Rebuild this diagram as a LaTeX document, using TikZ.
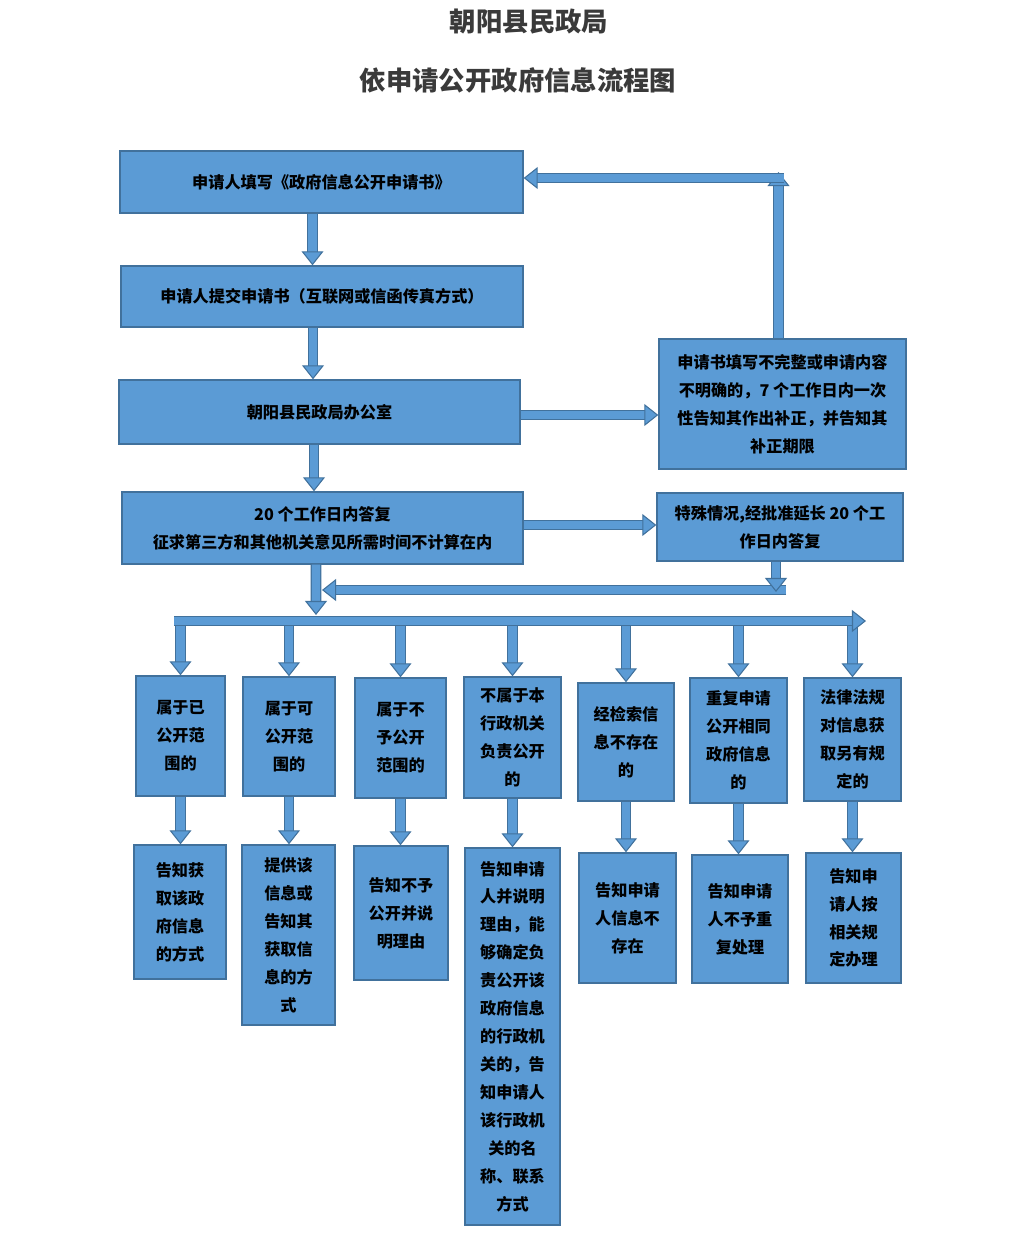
\documentclass[tikz,border=0pt]{standalone}
\usepackage{fontspec}
\setmainfont{Noto Sans CJK SC}
\usepackage{tikz}
\usetikzlibrary{arrows.meta,calc}
\definecolor{FlowBlue}{HTML}{5B9BD5}
\definecolor{FlowLine}{HTML}{41719C}
\definecolor{TitleGray}{HTML}{3A3A3A}
\tikzset{
  stepbox/.style={draw=FlowLine,line width=0.8pt,fill=FlowBlue,align=center,inner sep=2pt,
    font=\fontsize{9.2}{15.9}\selectfont\bfseries},
  flow/.style={draw=FlowBlue,line width=4.6pt,
    -{Triangle[length=8pt,width=12.5pt,line width=0.6pt,fill=FlowBlue,color=FlowLine]},
    preaction={draw=FlowLine,line width=6pt,shorten >=7.5pt,-}},
  titletext/.style={font=\fontsize{15}{18}\selectfont\bfseries,text=TitleGray}
}
\begin{document}
\begin{tikzpicture}[x=0.02cm,y=-0.02cm]
  \fill[white] (0,0) rectangle (1010,1254);

  \node[titletext] (org) at (529,22) {朝阳县民政局};
  \node[titletext] (title) at (518,80) {依申请公开政府信息流程图};

  % main column
  \node[stepbox,minimum width=8.06cm,minimum height=1.24cm] (apply) at (321.5,182) {申请人填写《政府信息公开申请书》};
  \node[stepbox,minimum width=8.04cm,minimum height=1.22cm] (submit) at (322,296.5) {申请人提交申请书（互联网或信函传真方式）};
  \node[stepbox,minimum width=8.02cm,minimum height=1.28cm] (office) at (319.5,412) {朝阳县民政局办公室};
  \node[stepbox,minimum width=8.02cm,minimum height=1.44cm] (reply) at (322.5,528) {20 个工作日内答复\\征求第三方和其他机关意见所需时间不计算在内};

  % side boxes
  \node[stepbox,minimum width=4.94cm,minimum height=2.6cm] (supplement) at (782.5,404) {申请书填写不完整或申请内容\\不明确的，7 个工作日内一次\\性告知其作出补正，并告知其\\补正期限};
  \node[stepbox,minimum width=4.92cm,minimum height=1.36cm] (extend) at (780,527) {特殊情况,经批准延长 20 个工\\作日内答复};

  % cases
  \node[stepbox,minimum width=1.78cm,minimum height=2.4cm] (kind1) at (180.5,736) {属于已\\公开范\\围的};
  \node[stepbox,minimum width=1.84cm,minimum height=2.38cm] (kind2) at (289,736.5) {属于可\\公开范\\围的};
  \node[stepbox,minimum width=1.82cm,minimum height=2.4cm] (kind3) at (400.5,738) {属于不\\予公开\\范围的};
  \node[stepbox,minimum width=1.94cm,minimum height=2.42cm] (kind4) at (512.5,737.5) {不属于本\\行政机关\\负责公开\\的};
  \node[stepbox,minimum width=1.92cm,minimum height=2.36cm] (kind5) at (626,742) {经检索信\\息不存在\\的};
  \node[stepbox,minimum width=1.94cm,minimum height=2.5cm] (kind6) at (738.5,740.5) {重复申请\\公开相同\\政府信息\\的};
  \node[stepbox,minimum width=1.94cm,minimum height=2.46cm] (kind7) at (852.5,739.5) {法律法规\\对信息获\\取另有规\\定的};

  % answers
  \node[stepbox,minimum width=1.84cm,minimum height=2.68cm] (answer1) at (180,912) {告知获\\取该政\\府信息\\的方式};
  \node[stepbox,minimum width=1.86cm,minimum height=3.6cm] (answer2) at (288.5,935) {提供该\\信息或\\告知其\\获取信\\息的方\\式};
  \node[stepbox,minimum width=1.88cm,minimum height=2.68cm] (answer3) at (401,913) {告知不予\\公开并说\\明理由};
  \node[stepbox,minimum width=1.9cm,minimum height=7.54cm] (answer4) at (512.5,1036.5) {告知申请\\人并说明\\理由，能\\够确定负\\责公开该\\政府信息\\的行政机\\关的，告\\知申请人\\该行政机\\关的名\\称、联系\\方式};
  \node[stepbox,minimum width=1.94cm,minimum height=2.6cm] (answer5) at (627.5,918) {告知申请\\人信息不\\存在};
  \node[stepbox,minimum width=1.92cm,minimum height=2.56cm] (answer6) at (740,919) {告知申请\\人不予重\\复处理};
  \node[stepbox,minimum width=1.9cm,minimum height=2.6cm] (answer7) at (853.5,918) {告知申\\请人按\\相关规\\定办理};

  \coordinate (loopcorner) at (784,178);
  \coordinate (merge) at (786,590);
  \coordinate (split) at (316,615);
  \coordinate (barwest) at (174,621);
  \coordinate (bareast) at (866,621);

  \draw[flow] ([xshift=-0.18cm]apply.south) -- ([xshift=-0.18cm]apply.south |- submit.north);
  \draw[flow] ([xshift=-0.18cm]submit.south) -- ([xshift=-0.18cm]submit.south |- office.north);
  \draw[flow] ([xshift=-0.11cm]office.south) -- ([xshift=-0.11cm]office.south |- reply.north);
  \draw[flow] ([yshift=-0.06cm]office.east) -- ([yshift=-0.06cm]office.east -| supplement.west);
  \draw[flow] ([xshift=-0.08cm]supplement.north) -- ([xshift=-0.08cm,yshift=0.12cm]supplement.north |- loopcorner);
  \draw[flow] (loopcorner) -- (loopcorner -| apply.east);
  \draw[flow] ([yshift=0.06cm]reply.east) -- ([yshift=0.06cm]reply.east -| extend.west);

  \foreach \i in {1,...,7}
    \draw[flow] (kind\i.north |- barwest) -- (kind\i.north);
  \draw[flow] (barwest) -- (bareast);
  \draw[flow] ([xshift=-0.13cm]reply.south) -- (split);
  \draw[flow] (merge) -- ([xshift=0.12cm]merge -| split);
  \draw[flow] ([xshift=-0.08cm]extend.south) -- ([xshift=-0.08cm,yshift=-0.04cm]extend.south |- merge);

  \foreach \i in {1,...,7}
    \draw[flow] (kind\i.south) -- (kind\i.south |- answer\i.north);
\end{tikzpicture}
\end{document}
